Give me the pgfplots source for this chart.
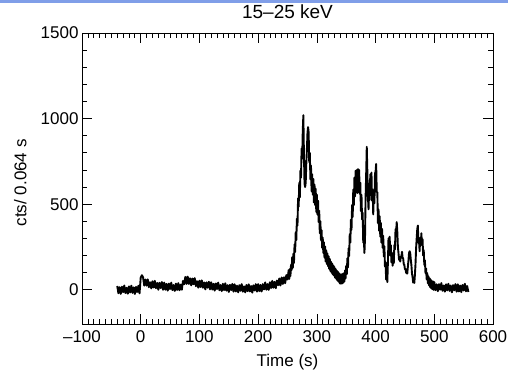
\documentclass[border=0pt]{standalone}
\usepackage{fontspec}
\setmainfont{Liberation Sans}
\usepackage{pgfplots}
\pgfplotsset{compat=1.18}
\definecolor{band}{RGB}{128,158,232}
\begin{document}
\begin{tikzpicture}[x=1pt,y=1pt]
\useasboundingbox (0,0) rectangle (508,372);
\fill[band] (0,368.5) rectangle (508,372);
\begin{axis}[
  at={(82pt,48pt)}, anchor=south west,
  scale only axis, width=411pt, height=291pt,
  xmin=-100, xmax=600, ymin=-200, ymax=1500,
  xtick={-100,0,100,200,300,400,500,600},
  xticklabels={\textendash100,0,100,200,300,400,500,600},
  ytick={0,500,1000,1500},
  yticklabels={0,500,1000,1500},
  minor x tick num=9, minor y tick num=4,
  tick align=inside,
  major tick length=10pt, minor tick length=5pt,
  axis line style={line width=0.8pt},
  every tick/.style={line width=0.7pt, black},
  ticklabel style={font=\fontsize{17}{19}\selectfont},
  xticklabel style={yshift=-3pt},
  title={15\textendash25 keV},
  title style={font=\fontsize{19}{21}\selectfont, at={(axis description cs:0.5,1.0515)}, anchor=center},
  xlabel={Time (s)},
  xlabel style={font=\fontsize{17}{19}\selectfont, at={(axis description cs:0.5,-0.13)}, anchor=center},
  ylabel={cts/ 0.064 s},
  ylabel style={font=\fontsize{17}{19}\selectfont, at={(axis description cs:-0.15,0.485)}, anchor=center, rotate=0},
]
\addplot[black, line width=1.9pt, line join=round, mark=none] table[x=t, y=c] {
t c
-40 22
-38 -20
-36 15
-34 -24
-32 18
-30 -14
-28 25
-26 -19
-24 12
-22 -23
-20 20
-18 -16
-16 24
-14 -18
-12 14
-10 -25
-8 17
-6 -13
-4 23
-2 -21
0 72
2 85
4 73
6 24
8 60
10 24
12 61
14 15
16 44
18 8
20 50
22 13
24 52
26 9
28 40
30 0
32 41
34 10
36 45
38 0
40 42
42 0
44 34
46 -5
48 36
50 4
52 42
54 -2
56 28
58 -7
60 36
62 -1
64 39
66 -3
68 30
70 0
72 52
74 32
76 75
78 34
80 77
82 34
84 67
86 26
88 66
90 32
92 68
94 21
96 50
98 12
100 53
102 16
104 55
106 12
108 43
110 2
112 43
114 12
116 47
118 2
120 44
122 1
124 35
126 -5
128 37
130 4
132 42
134 -3
136 28
138 -8
140 35
142 -2
144 38
146 -5
148 27
150 -13
152 29
154 -2
156 34
158 -11
160 32
162 -10
164 24
166 -15
168 27
170 -6
172 33
174 -11
176 20
178 -15
180 28
182 -8
184 32
186 -10
188 22
190 -17
192 26
194 -4
196 33
198 -11
200 33
202 -8
204 28
206 -10
208 33
210 2
212 43
214 0
216 33
218 -1
220 44
222 10
224 52
226 12
228 46
230 9
232 54
234 27
236 66
238 25
240 72
242 34
244 73
246 38
248 86
250 60
252 115
253 63
254 121
255 80
256 146
257 115
258 190
259 128
260 210
261 157
262 265
263 220
264 337
265 290
266 415
267 375
268 535
269 485
270 625
271 540
272 695
273 655
274 825
275 765
276 930
277 1020
278 790
279 620
280 600
281 625
282 735
283 815
284 915
285 950
286 920
287 745
288 800
289 645
290 725
291 575
292 675
293 555
294 647
295 510
296 615
297 495
298 590
299 455
300 555
301 440
302 520
303 395
304 462
305 330
306 400
307 290
308 348
309 245
310 305
311 215
312 277
313 187
314 253
315 165
316 230
317 150
318 212
319 138
320 196
321 122
322 180
323 110
324 164
325 100
326 154
327 90
328 142
329 83
330 132
331 71
332 121
333 63
334 112
335 54
336 105
337 47
338 96
339 37
340 90
341 35
342 90
343 37
344 93
345 41
346 97
347 49
348 113
349 67
350 140
351 92
352 185
353 130
354 243
355 197
356 325
357 275
358 410
359 350
360 495
361 425
362 585
363 495
364 655
365 545
366 695
367 575
368 700
369 565
370 705
371 600
372 700
373 560
374 625
375 460
376 555
377 410
378 450
379 275
380 300
381 215
382 300
383 540
384 680
385 835
386 690
387 545
388 470
389 620
390 525
391 675
392 565
393 685
394 520
395 585
396 440
397 555
398 505
399 680
400 690
401 735
402 570
403 570
404 390
405 470
406 345
407 430
408 310
409 390
410 275
411 355
412 245
413 315
414 195
415 255
416 135
417 160
418 60
419 85
420 45
421 160
422 300
423 240
424 310
425 200
426 260
427 160
428 215
429 140
430 210
431 155
432 262
433 235
434 355
435 340
436 395
437 340
438 250
439 215
440 175
441 180
442 165
443 195
444 195
445 222
446 188
447 182
448 150
449 145
450 120
451 122
452 100
453 97
454 95
455 135
456 170
457 215
458 225
459 215
460 175
461 145
462 95
463 75
464 42
465 47
466 40
467 88
468 150
469 240
470 300
471 355
472 375
473 275
474 285
475 225
476 305
477 265
478 330
479 260
480 295
481 200
482 232
483 145
484 172
485 97
486 125
487 61
488 97
489 38
490 79
491 25
492 67
493 15
494 59
495 7
496 51
497 3
498 49
499 -1
500 45
502 -2
504 32
506 -8
508 33
510 0
512 39
514 -6
516 25
518 -11
520 32
522 -4
524 35
526 -7
528 25
530 -15
532 27
534 -3
536 33
538 -11
540 32
542 -10
544 25
546 -14
548 28
550 -4
552 35
554 -9
556 22
558 -13
};
\end{axis}
\end{tikzpicture}
\end{document}
